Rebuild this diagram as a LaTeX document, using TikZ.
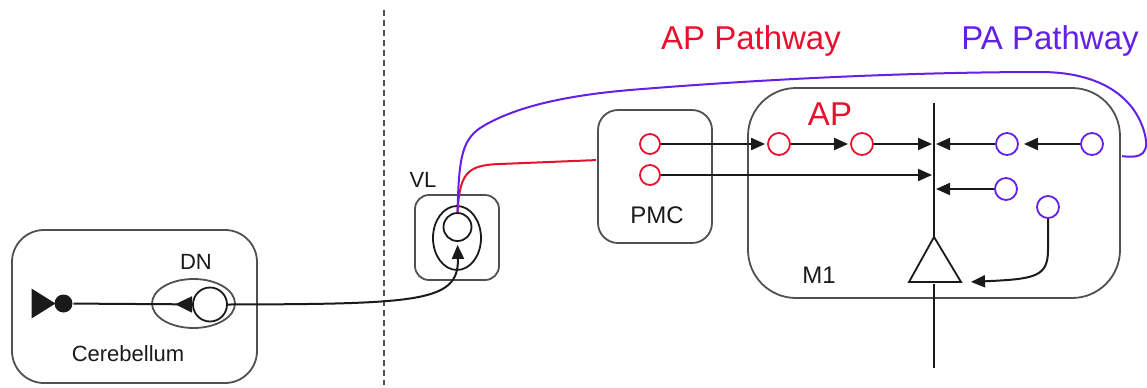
\documentclass[tikz,border=0pt]{standalone}
\usepackage{fontspec}
\setmainfont{Liberation Sans}
\usetikzlibrary{arrows.meta,calc,shapes.geometric}
\definecolor{ink}{HTML}{1A1A1A}
\definecolor{frame}{HTML}{505050}
\definecolor{apred}{HTML}{E8112D}
\definecolor{pavio}{HTML}{6320E6}

\tikzset{
  areabox/.style={draw=frame,line width=.9pt,inner sep=0pt},
  nucleus/.style={draw=frame,ellipse,line width=.9pt,inner sep=0pt},
  cell/.style={circle,draw,line width=.9pt,minimum size=11pt,inner sep=0pt},
  tag/.style={anchor=base,font=\fontsize{11}{13}\selectfont},
  bigtag/.style={anchor=base,font=\fontsize{12}{14}\selectfont},
  pathtag/.style={anchor=base,font=\fontsize{16.5}{19}\selectfont},
}

\begin{document}
\begin{tikzpicture}[x=.5pt,y=-.5pt,line width=1pt,ink,
    >={Triangle[length=7pt,width=6pt]},shorten >=1pt]
  \useasboundingbox (0,0) rectangle (1147,387);

  % midline
  \draw[frame,line width=.8pt,dash pattern=on 3pt off 2pt] (384,10) -- (384,387);

  % Cerebellum with dentate nucleus
  \node[areabox,minimum width=122.5pt,minimum height=76.5pt,
    rounded corners=16pt] (cb) at (134.5,306.5) {};
  \node[tag] at (128,361) {Cerebellum};
  \node[tag] at (196,269) {DN};
  \node[nucleus,minimum width=41.5pt,minimum height=24.5pt] (dn) at (193.5,303.5) {};
  \node[cell,minimum size=17pt] (dncell) at (210,304.5) {};
  \node[circle,fill,minimum size=9pt,inner sep=0pt] (pc) at (63.5,303.5) {};
  \fill ($(pc.west)+(-22,-15)$) -- ($(pc.west)+(2,0)$) -- ($(pc.west)+(-22,15)$) -- cycle;
  \draw[shorten >=0pt,-{Triangle[reversed,length=8.5pt,width=8pt]}] (pc) -- (dncell);

  % VL thalamus
  \node[tag] at (423,187) {VL};
  \node[areabox,minimum width=42pt,minimum height=42.5pt,
    rounded corners=7pt] (vl) at (457,237.5) {};
  \node[nucleus,draw=ink,minimum width=24pt,minimum height=32pt] (vlnuc) at (457,238) {};
  \node[cell,minimum size=14pt] (vlcell) at (457.5,227) {};
  \draw[->,shorten >=1.5pt] (dncell.east) .. controls (420,304) and (459,302) .. (vlcell.south);

  % PMC
  \node[areabox,minimum width=57pt,minimum height=66.5pt,
    rounded corners=10pt] (pmc) at (655,176.5) {};
  \node[bigtag] at (657,223) {PMC};
  \node[cell,draw=apred,minimum size=10pt] (pmc1) at (650,144) {};
  \node[cell,draw=apred,minimum size=10pt] (pmc2) at (650,175) {};

  % M1
  \node[areabox,minimum width=186pt,minimum height=105pt,
    rounded corners=24pt] (m1) at (934,193) {};
  \node[bigtag] at (819,283) {M1};
  \node[pathtag,apred] at (830,125) {AP};

  % pyramidal neuron
  \draw[line width=.9pt] (909,282) coordinate (pyrL) -- (934,237) coordinate (pyrtop)
    -- (961,282) coordinate (pyrR) -- cycle;
  \draw (pyrtop) -- (934,101) coordinate (dtop);
  \draw (934,284) coordinate (pyrbase) -- (934,370);
  \coordinate (d1) at (934,144);
  \coordinate (d2) at (934,175);
  \coordinate (d3) at (934,189);
  \coordinate (pyrin) at (969,282);

  \node[cell,draw=apred] (ap1) at (779,144) {};
  \node[cell,draw=apred] (ap2) at (862,144) {};
  \node[cell,draw=pavio] (pa1) at (1007,144) {};
  \node[cell,draw=pavio] (pa2) at (1092,144) {};
  \node[cell,draw=pavio] (pa3) at (1006,189) {};
  \node[cell,draw=pavio] (pa4) at (1048,207) {};

  \draw[->] (pmc1) -- (ap1);
  \draw[->] (ap1) -- (ap2);
  \draw[->] (ap2) -- (d1);
  \draw[->] (pmc2) -- (d2);
  \draw[->,shorten >=2.5pt] (pa2) -- (pa1);
  \draw[->] (pa1) -- (d1);
  \draw[->] (pa3) -- (d3);
  \draw[->] (pa4.south) -- (1048,250) .. controls (1048,277) and (1035,279) .. (pyrin);

  % thalamic fibres
  \coordinate (pmcin) at (598,160);
  \coordinate (paend) at (1120,156);
  \draw[apred] (vlcell.north) .. controls (460,174) and (466,165) .. (500,164) -- (pmcin);
  \draw[pavio] (vlcell.north) .. controls (459,155) and (462,138) .. (485,125)
    .. controls (515,108) and (560,96) .. (630,90)
    .. controls (800,76) and (950,72) .. (1040,72)
    .. controls (1110,72) and (1138,105) .. (1145,135)
    .. controls (1151,160) and (1132,157) .. (paend);

  \node[pathtag,apred] at (751,49) {AP Pathway};
  \node[pathtag,pavio] at (1050,49) {PA Pathway};
\end{tikzpicture}
\end{document}
